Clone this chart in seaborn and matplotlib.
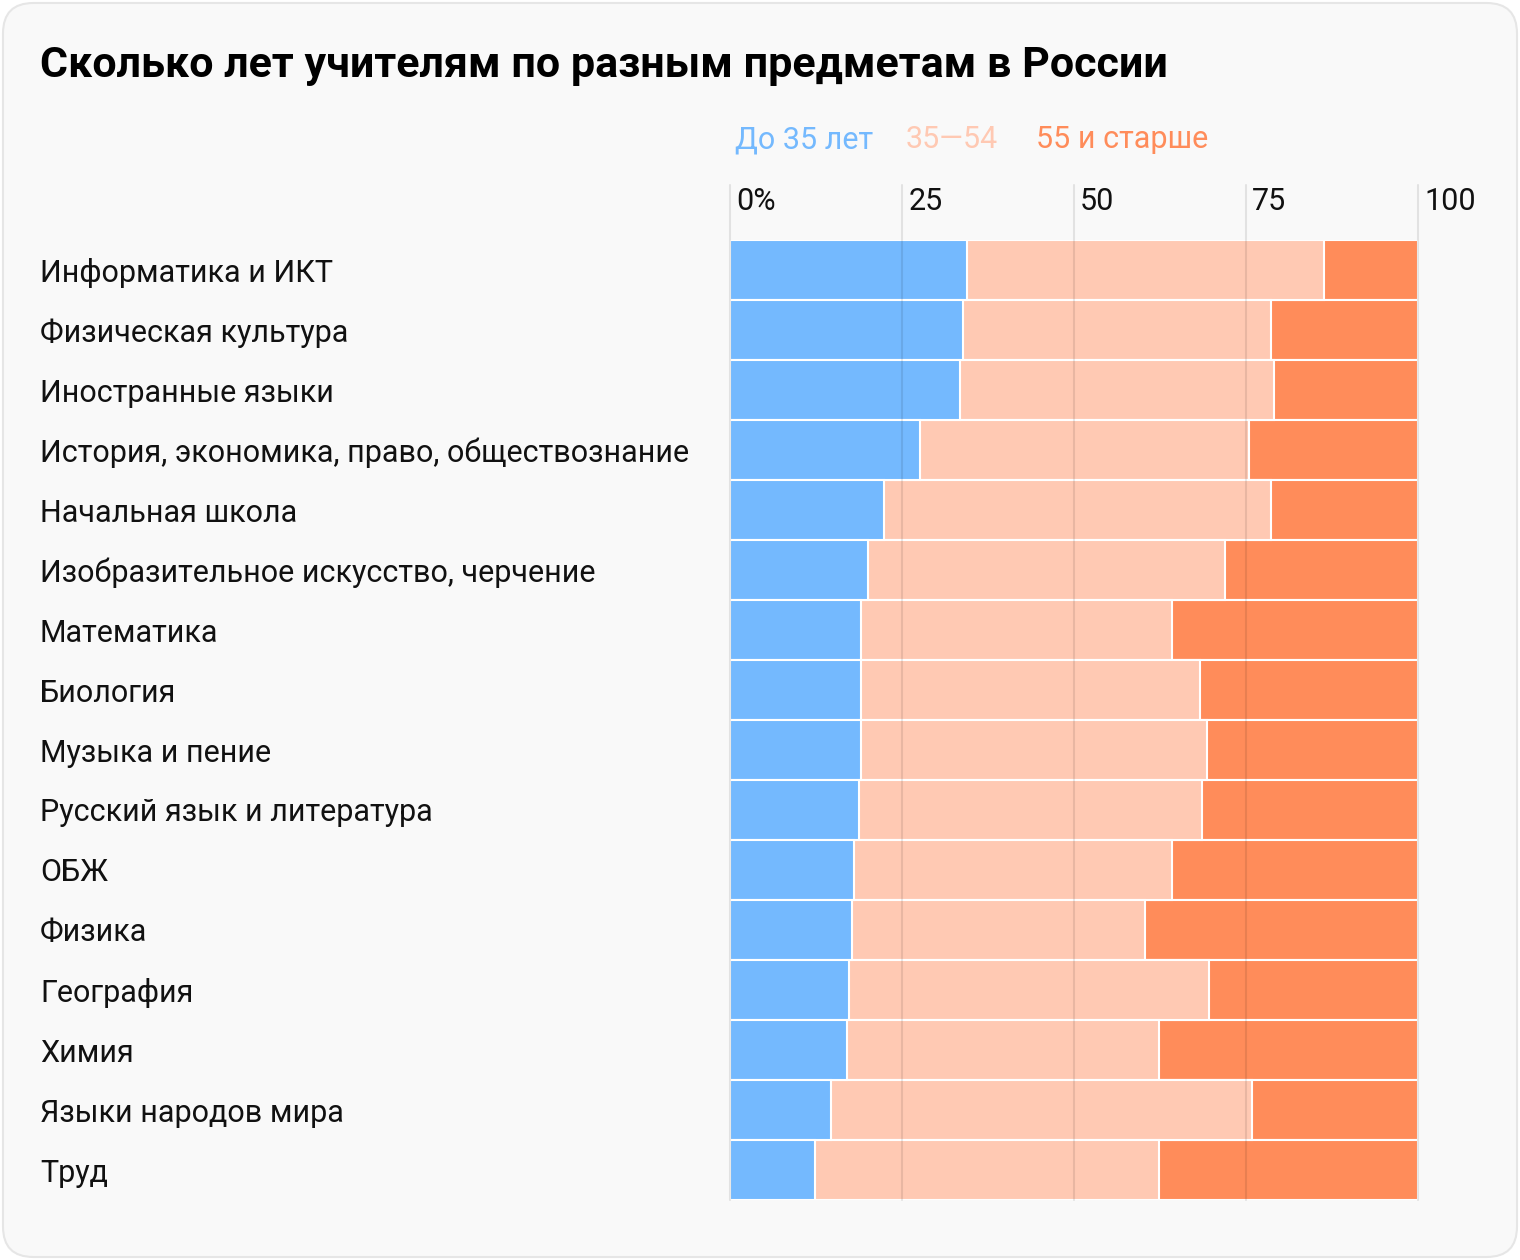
import matplotlib
matplotlib.use("Agg")
import matplotlib.pyplot as plt
from matplotlib.patches import FancyBboxPatch
import seaborn as sns
import pandas as pd
import numpy as np

# ===============================
# Data (shares of teachers, %)
# ===============================
subjects = [
    "Информатика и ИКТ",
    "Физическая культура",
    "Иностранные языки",
    "История, экономика, право, обществознание",
    "Начальная школа",
    "Изобразительное искусство, черчение",
    "Математика",
    "Биология",
    "Музыка и пение",
    "Русский язык и литература",
    "ОБЖ",
    "Физика",
    "География",
    "Химия",
    "Языки народов мира",
    "Труд",
]
under_35 = [34.4, 33.9, 33.5, 27.6, 22.4, 20.1, 19.0, 19.0, 19.0, 18.8, 18.0, 17.7, 17.3, 17.0, 14.7, 12.4]
age_35_54 = [51.9, 44.7, 45.6, 47.9, 56.2, 51.8, 45.2, 49.3, 50.3, 49.8, 46.2, 42.6, 52.3, 45.4, 61.1, 50.0]
over_55 = [13.7, 21.4, 20.9, 24.5, 21.4, 28.1, 35.8, 31.7, 30.7, 31.4, 35.8, 39.7, 30.4, 37.6, 24.2, 37.6]

groups = ["До 35 лет", "35—54", "55 и старше"]
colors = ["#74b9fe", "#ffc9b3", "#ff8c5a"]
xticks = [0, 25, 50, 75, 100]
xtick_labels = ["0%", "25", "50", "75", "100"]

df = pd.DataFrame({
    "subject": subjects,
    "young": under_35,
    "middle": age_35_54,
    "old": over_55,
})
df["cum1"] = df["young"]
df["cum2"] = df["young"] + df["middle"]
df["cum3"] = df["cum2"] + df["old"]

# ===============================
# Figure
# ===============================
sns.set_theme(style="white")
plt.rcParams["font.family"] = ["Roboto", "DejaVu Sans"]

W, H = 1520, 1260
fig = plt.figure(figsize=(W / 100, H / 100), dpi=100, facecolor="white")

# card background
card = FancyBboxPatch((3 / W, 3 / H), 1 - 6 / W, 1 - 6 / H,
                      boxstyle="round,pad=0,rounding_size=0.02",
                      transform=fig.transFigure, facecolor="#f9f9f9",
                      edgecolor="#e6e6e6", linewidth=1.5, zorder=-10,
                      mutation_aspect=W / H)
fig.patches.append(card)

ax = fig.add_axes([730 / W, 1 - 1200 / H, 688 / W, 960 / H])
ax.set_facecolor("none")

# stacked bars: draw cumulative totals from the longest down
for col, c in zip(["cum3", "cum2", "cum1"], colors[::-1]):
    sns.barplot(data=df, x=col, y="subject", orient="h", color=c,
                width=1.0, edgecolor="white", linewidth=1.5,
                saturation=1, ax=ax)

ax.set_xlim(0, 100)
ax.set_ylim(len(subjects) - 0.5, -0.5)
ax.set_xlabel("")
ax.set_ylabel("")
for s in ax.spines.values():
    s.set_visible(False)

# grid lines going a bit above the plot
for x, lab in zip(xticks, xtick_labels):
    ax.axvline(x, ymin=0, ymax=1.057, color="black", alpha=0.09,
               linewidth=1.5, clip_on=False, zorder=5)
    ax.text(x + 0.9, 1.04, lab,
            transform=ax.get_xaxis_transform(), ha="left", va="center",
            fontsize=22, color="#111111")
ax.set_xticks([])

# category labels on the left
ax.tick_params(axis="y", length=0, pad=690 * 72 / 100, labelsize=22,
               labelcolor="#111111")
for lbl in ax.get_yticklabels():
    lbl.set_horizontalalignment("left")

# title
fig.text(40 / W, 1 - 65 / H, "Сколько лет учителям по разным предметам в России",
         ha="left", va="center", fontsize=31, fontweight="bold", color="black")

# legend as coloured words
legend_x = [735, 906, 1036]
for g, c, lx in zip(groups, colors, legend_x):
    fig.text(lx / W, 1 - 140 / H, g, ha="left", va="center",
             fontsize=22, color=c)

fig.savefig("out.png", dpi=100, facecolor="white")
